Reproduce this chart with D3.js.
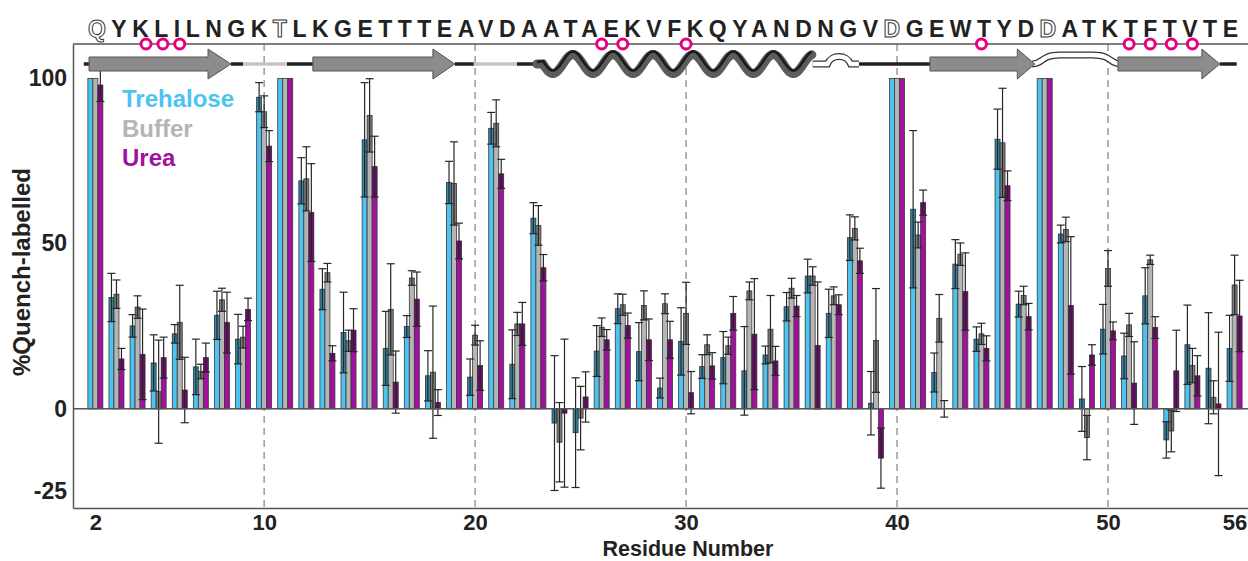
<!DOCTYPE html>
<html>
<head>
<meta charset="utf-8">
<script src="https://cdn.jsdelivr.net/npm/d3@7"></script>
<style>
  body { margin: 0; background: #fff; }
  text { font-family: "Liberation Sans", Arial, sans-serif; font-weight: bold; }
</style>
</head>
<body>
<div id="chart"></div>
<script>
// residues and series values (%Quench-labelled)
var residues = [2, 3, 4, 5, 6, 7, 8, 9, 10, 11, 12, 13, 14, 15, 16, 17, 18, 19, 20, 21, 22, 23, 24, 25, 26, 27, 28, 29,
  30, 31, 32, 33, 34, 35, 36, 37, 38, 39, 40, 41, 42, 43, 44, 45, 46, 47, 48, 49, 50, 51, 52, 53, 54, 55, 56];

var trehalose = [100, 33.7, 25.1, 13.9, 22.7, 12.7, 28.3, 21.1, 94.3, 100, 69, 36.2, 23.1, 81.4, 18.3, 24.9, 10, 68.5,
  9.6, 84.9, 13.5, 57.7, -4.3, -7.2, 17.5, 30.3, 17.3, 6.3, 20.4, 12.8, 15.5, 11.5, 16.3, 30.9, 40.2, 28.9, 51.8, 1.7,
  100, 60.4, 11, 43.8, 21.1, 81.6, 31.7, 100, 52.9, 3, 24.1, 16, 34.2, -9.4, 19.4, 12.3, 18.3];
var trehaloseErr = [0, 7.3, 3.4, 8.5, 2.8, 8.4, 7.3, 7.5, 4.4, 0, 7, 6.2, 12.2, 17.3, 11.2, 3.3, 7.6, 6.4, 5.5, 4.8,
  10.4, 4.7, 20.4, 16.6, 7.7, 4.5, 8.8, 3, 10.2, 3.6, 7.9, 13.4, 2.7, 4.3, 5.1, 7.3, 6.9, 9.6, 0, 23.8, 5.9, 7.4, 3.7,
  9.1, 3.9, 0, 2.7, 9.8, 7.5, 6.9, 8.5, 5.5, 12, 16.8, 10];

var buffer = [100, 34.7, 30.8, 5.2, 26.2, 11.3, 33, 21.7, 89.9, 100, 69.6, 41.2, 20.6, 88.8, 30.1, 39.6, 11.1, 68.2,
  22.3, 86.4, 25.7, 55.5, -10.1, -2.8, 24.7, 31.5, 31.3, 31.8, 28.9, 19.4, 19.1, 35.7, 24.1, 36.5, 40.2, 34.2, 54.6,
  20.7, 100, 52.6, 27.4, 46.8, 22.7, 80.5, 34.3, 100, 54.3, -8.7, 42.5, 25.4, 45.1, -6.7, 13.1, 3.5, 37.5];
var bufferErr = [0, 4.3, 3.4, 15.6, 11.2, 2.2, 3.5, 3.3, 4.8, 0, 9.7, 2.8, 3.2, 11.1, 13.8, 2.2, 20, 12.6, 3, 7.1,
  3.5, 6, 12, 9.6, 2.8, 3.2, 4.4, 3, 9.4, 3, 2.6, 2.7, 10.2, 3, 2.8, 2.7, 3.5, 15.7, 0, 3.9, 7.2, 3.4, 3.2, 16.5, 2.8,
  0, 3.7, 6.7, 5.4, 3.5, 1.4, 6.3, 5.2, 5, 9];

var urea = [98, 15.1, 16.5, 15.5, 5.7, 15.5, 26.1, 30.1, 79.5, 100, 59.4, 16.8, 23.8, 73.3, 8.1, 33.2, 1.9, 50.8,
  13.1, 71.1, 25.7, 42.7, -1.3, 3.6, 20.9, 25.2, 20.9, 20.9, 4.9, 13, 28.9, 22.6, 14.5, 31.1, 19.2, 31.5, 44.8, -14.9,
  100, 62.4, 0, 35.5, 18.3, 67.5, 27.9, 100, 31.3, 16.3, 23.6, 7.8, 24.6, 11.5, 10, 1.5, 28.1];
var ureaErr = [5, 3.2, 13.7, 6.2, 9.9, 4.4, 9.2, 3.4, 4.7, 0, 14.8, 2.3, 6.5, 9.2, 9.4, 8.2, 3.9, 5.4, 7.5, 4.4, 6.5,
  4, 22.4, 7.6, 3.1, 3.8, 6.3, 5.6, 6.4, 4, 5.1, 16.8, 4.4, 3.2, 19.2, 3, 3.8, 9.1, 0, 3.8, 2.5, 11.7, 3.8, 4.5, 4, 0,
  20.8, 3.1, 2.7, 12.5, 3.3, 12.3, 6.1, 21.7, 10.8];

var seriesNames = ["Trehalose", "Buffer", "Urea"];
var seriesColors = ["#4dc3f1", "#b5b5b5", "#a3109f"];

var yTicks = [-25, 0, 50, 100];
var xTicks = [2, 10, 20, 30, 40, 50, 56];
var dashedAt = [10, 20, 30, 40, 50];

// sequence, outlined residues, pink marked residues
var sequence = "QYKLILNGKTLKGETTTEAVDAATAEKVFKQYANDNGVDGEWTYDDATKTFTVTE";
var outlined = [2, 11, 40, 47];
var marked = [4.4, 5.2, 6, 26, 27, 30, 44, 51, 52, 53, 54];

// secondary structure (residue coordinates)
var strands = [[1.7, 7.34, 8.43], [12.31, 18.0, 19.04], [41.56, 45.7, 46.53], [50.47, 54.45, 55.3]];
var blackLinks = [[1.45, 1.7], [8.43, 9.0], [11.08, 12.31], [19.04, 19.94], [21.98, 22.93], [38.1, 41.56], [55.3, 56.1]];
var greyLinks = [[9.0, 11.08], [19.94, 21.98]];
var helix = [22.93, 36.0];

var W = 1248, H = 561;
var margin = { top: 44, left: 73, bottom: 508, right: 1250 };

var svg = d3.select("#chart").append("svg")
  .attr("width", W)
  .attr("height", H);

var x = d3.scaleLinear().domain([0.94, 56.73]).range([margin.left, margin.right]);
var y = d3.scaleLinear().domain([-30, 110.4]).range([margin.bottom, margin.top]);

// dashed reference lines
svg.append("g").selectAll("line")
  .data(dashedAt)
  .enter().append("line")
  .attr("x1", d => x(d)).attr("x2", d => x(d))
  .attr("y1", margin.top).attr("y2", margin.bottom)
  .attr("stroke", "#8a8a8a")
  .attr("stroke-width", 1.3)
  .attr("stroke-dasharray", "7,5");

// top frame line
svg.append("line")
  .attr("x1", margin.left).attr("x2", W)
  .attr("y1", margin.top).attr("y2", margin.top)
  .attr("stroke", "#555").attr("stroke-width", 1.3);

// bars
var barW = 5;
var allVals = [trehalose, buffer, urea];
var allErr = [trehaloseErr, bufferErr, ureaErr];
var bars = [];
allVals.forEach(function(vals, s) {
  vals.forEach(function(v, i) {
    bars.push({ r: residues[i], s: s, v: v, e: allErr[s][i] });
  });
});

var bx = d => x(d.r) + (d.s - 1) * barW - barW / 2;

var gBars = svg.append("g");
gBars.selectAll("rect.bar")
  .data(bars)
  .enter().append("rect")
  .attr("class", "bar")
  .attr("x", bx)
  .attr("y", d => y(Math.max(0, d.v)))
  .attr("width", barW)
  .attr("height", d => Math.abs(y(d.v) - y(0)))
  .attr("fill", d => seriesColors[d.s])
  .attr("stroke", "#3a3a3a")
  .attr("stroke-width", 0.8);

// darker part of the bar covered by the error range
gBars.selectAll("rect.shade")
  .data(bars.filter(d => d.e > 0))
  .enter().append("rect")
  .attr("class", "shade")
  .attr("x", bx)
  .attr("y", function(d) {
    if (d.v >= 0) return y(d.v);
    return y(Math.min(0, d.v + d.e));
  })
  .attr("width", barW)
  .attr("height", function(d) {
    if (d.v >= 0) return y(Math.max(0, d.v - d.e)) - y(d.v);
    return y(d.v) - y(Math.min(0, d.v + d.e));
  })
  .attr("fill", "#000")
  .attr("opacity", 0.3);

// error bars
var errs = bars.filter(d => d.e > 0);
var gErr = svg.append("g").attr("stroke", "#262626").attr("stroke-width", 1.2);
gErr.selectAll("line.v")
  .data(errs)
  .enter().append("line")
  .attr("x1", d => bx(d) + barW / 2).attr("x2", d => bx(d) + barW / 2)
  .attr("y1", d => y(d.v + d.e)).attr("y2", d => y(d.v - d.e));
gErr.selectAll("line.top")
  .data(errs)
  .enter().append("line")
  .attr("x1", d => bx(d) - 1.5).attr("x2", d => bx(d) + barW + 1.5)
  .attr("y1", d => y(d.v + d.e)).attr("y2", d => y(d.v + d.e));
gErr.selectAll("line.bot")
  .data(errs)
  .enter().append("line")
  .attr("x1", d => bx(d) - 1.5).attr("x2", d => bx(d) + barW + 1.5)
  .attr("y1", d => y(d.v - d.e)).attr("y2", d => y(d.v - d.e));

// zero line
svg.append("line")
  .attr("x1", margin.left).attr("x2", W)
  .attr("y1", y(0)).attr("y2", y(0))
  .attr("stroke", "#555").attr("stroke-width", 1.5);

// axes
var yAxis = svg.append("g")
  .attr("transform", "translate(" + margin.left + ",0)")
  .call(d3.axisLeft(y).tickValues(yTicks).tickSize(0).tickSizeOuter(0).tickPadding(6).tickFormat(d => String(d)));
var xAxis = svg.append("g")
  .attr("transform", "translate(0," + margin.bottom + ")")
  .call(d3.axisBottom(x).tickValues(xTicks).tickSize(0).tickSizeOuter(0).tickPadding(6));
[yAxis, xAxis].forEach(function(a) {
  a.select(".domain").attr("stroke", "#555").attr("stroke-width", 1.5);
  a.selectAll("text")
    .attr("fill", "#222")
    .style("font-size", "23px")
    .style("font-family", "'Liberation Sans', Arial, sans-serif")
    .style("font-weight", "bold");
});
xAxis.selectAll("text").style("font-size", "22px");

svg.append("text")
  .attr("x", 688).attr("y", 555.5)
  .attr("text-anchor", "middle")
  .attr("fill", "#222")
  .style("font-size", "21.5px")
  .text("Residue Number");

svg.append("text")
  .attr("transform", "translate(30,272) rotate(-90)")
  .attr("text-anchor", "middle")
  .attr("fill", "#222")
  .style("font-size", "24px")
  .text("%Quench-labelled");

// legend
svg.append("g").selectAll("text")
  .data(seriesNames)
  .enter().append("text")
  .attr("x", 122)
  .attr("y", (d, i) => 107 + i * 29.5)
  .attr("fill", (d, i) => seriesColors[i])
  .style("font-size", "24px")
  .text(d => d);

// sequence on top
var seqText = svg.append("text")
  .attr("x", 88).attr("y", 37)
  .attr("textLength", 1150)
  .attr("lengthAdjust", "spacing")
  .style("font-size", "23px");
seqText.selectAll("tspan")
  .data(sequence.split(""))
  .enter().append("tspan")
  .text(d => d)
  .attr("fill", (d, i) => outlined.indexOf(i + 2) > -1 ? "#fff" : "#222")
  .attr("stroke", (d, i) => outlined.indexOf(i + 2) > -1 ? "#333" : "none")
  .attr("stroke-width", 1);

// secondary structure cartoon
var cy = 64;
var gSS = svg.append("g");

gSS.selectAll("line.black")
  .data(blackLinks)
  .enter().append("line")
  .attr("x1", d => x(d[0])).attr("x2", d => x(d[1]))
  .attr("y1", cy).attr("y2", cy)
  .attr("stroke", "#222").attr("stroke-width", 3.5);
gSS.selectAll("line.grey")
  .data(greyLinks)
  .enter().append("line")
  .attr("x1", d => x(d[0])).attr("x2", d => x(d[1]))
  .attr("y1", cy).attr("y2", cy)
  .attr("stroke", "#c4c4c4").attr("stroke-width", 3.5);

// loops drawn as white tubes
var tube = function(path) {
  gSS.append("path").attr("d", path).attr("fill", "none").attr("stroke", "#333").attr("stroke-width", 7);
  gSS.append("path").attr("d", path).attr("fill", "none").attr("stroke", "#fff").attr("stroke-width", 4.5);
};
var x1 = x(36.0), xb0 = x(36.7), xb1 = x(37.8), x2 = x(38.1);
tube("M" + x1 + "," + cy + " L" + xb0 + "," + cy +
  " C" + (xb0 + 4) + "," + (cy - 10) + " " + (xb1 - 4) + "," + (cy - 10) + " " + xb1 + "," + cy +
  " L" + (x2 + 2) + "," + cy);
var a0 = x(46.4), a1 = x(50.6);
tube("M" + a0 + "," + cy + " C" + (a0 + 12) + "," + cy + " " + (a0 + 8) + "," + (cy - 9) + " " + (a0 + 28) + "," + (cy - 9) +
  " L" + (a1 - 28) + "," + (cy - 9) + " C" + (a1 - 8) + "," + (cy - 9) + " " + (a1 - 12) + "," + cy + " " + a1 + "," + cy);

// helix
var hPts = [];
var period = 1.9;
var hStart = helix[0] + 0.28;
for (var t = hStart; t <= helix[1]; t += 0.05) {
  hPts.push([x(t), cy + 9.5 * Math.sin(2 * Math.PI * (t - hStart) / period)]);
}
var hLine = d3.line();
gSS.append("path")
  .attr("d", "M" + x(helix[0]) + "," + cy + " L" + hLine(hPts).slice(1))
  .attr("fill", "none").attr("stroke", "#5c5c5c").attr("stroke-width", 9).attr("stroke-linecap", "round");
gSS.append("path")
  .attr("d", "M" + x(helix[0]) + "," + (cy - 2) + " L" + hLine(hPts.map(p => [p[0], p[1] - 3])).slice(1))
  .attr("fill", "none").attr("stroke", "#1a1a1a").attr("stroke-width", 2.5);

// beta strands (arrows)
gSS.selectAll("path.strand")
  .data(strands)
  .enter().append("path")
  .attr("d", function(d) {
    var s = x(d[0]), h = x(d[1]), tip = x(d[2]);
    return "M" + s + "," + (cy - 7) + " L" + h + "," + (cy - 7) + " L" + h + "," + (cy - 15) +
      " L" + tip + "," + cy + " L" + h + "," + (cy + 15) + " L" + h + "," + (cy + 7) +
      " L" + s + "," + (cy + 7) + "Z";
  })
  .attr("fill", "#8c8c8c")
  .attr("stroke", "#555")
  .attr("stroke-width", 1);

// pink markers on the frame line
svg.append("g").selectAll("circle")
  .data(marked)
  .enter().append("circle")
  .attr("cx", d => x(d))
  .attr("cy", margin.top)
  .attr("r", 5)
  .attr("fill", "#fff")
  .attr("stroke", "#e6007e")
  .attr("stroke-width", 3);
</script>
</body>
</html>
